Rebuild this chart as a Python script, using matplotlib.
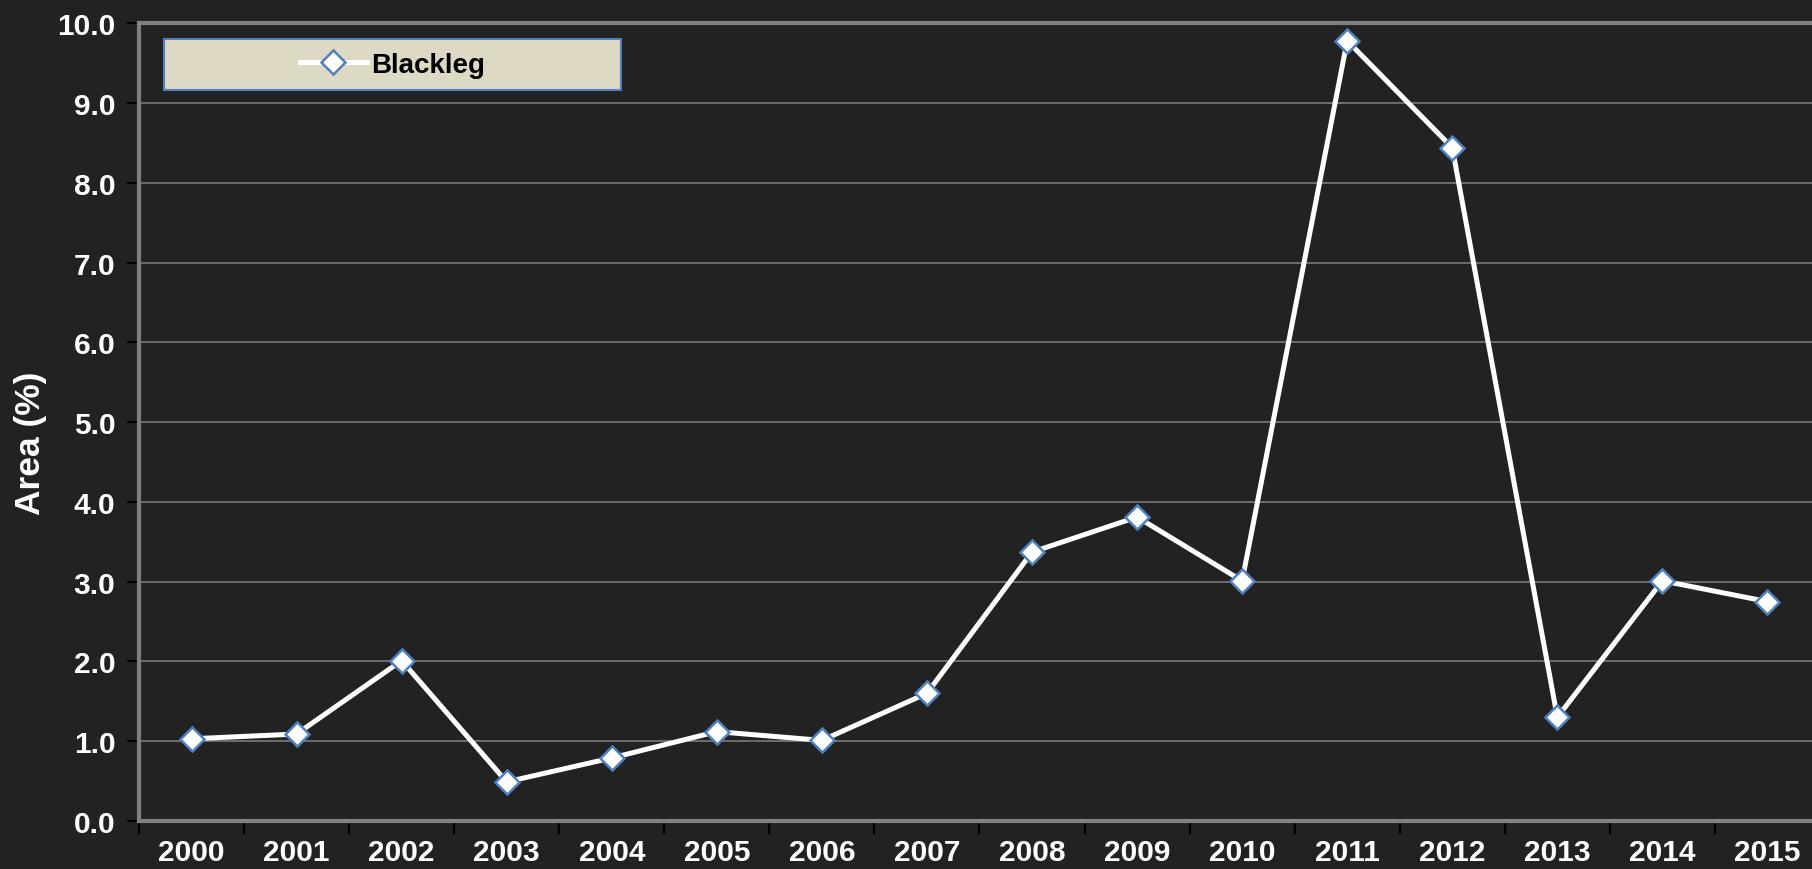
import matplotlib.pyplot as plt
import numpy as np
from matplotlib.ticker import FixedLocator, FixedFormatter
from matplotlib.patches import Rectangle

plt.rcParams['font.family'] = ['Liberation Sans', 'DejaVu Sans']

years = ['2000', '2001', '2002', '2003', '2004', '2005', '2006', '2007',
         '2008', '2009', '2010', '2011', '2012', '2013', '2014', '2015']
blackleg = [1.03, 1.09, 2.01, 0.49, 0.79, 1.12, 1.01, 1.60,
            3.37, 3.81, 3.01, 9.78, 8.44, 1.30, 3.01, 2.75]
yticks = [0.0, 1.0, 2.0, 3.0, 4.0, 5.0, 6.0, 7.0, 8.0, 9.0, 10.0]

bg = '#222222'
fig = plt.figure(figsize=(18.12, 8.7), dpi=100, facecolor=bg)
ax = fig.add_axes([0.0767, 0.0552, 0.9277, 0.917], facecolor=bg)

x = np.arange(len(years))
ax.plot(x, blackleg, color='white', lw=3.6, marker='D', markersize=12,
        markerfacecolor='white', markeredgecolor='#4F81BD', markeredgewidth=1.8,
        label='Blackleg', zorder=3)

ax.set_xlim(-0.5, len(years) - 0.5)
ax.set_ylim(0, 10)
ax.set_yticks(yticks)
ax.set_yticklabels([f'{v:.1f}' for v in yticks])
ax.grid(axis='y', color='#7a7a7a', lw=1.2)
ax.set_axisbelow(True)

# labels centered, tick marks on category boundaries
ax.xaxis.set_major_locator(FixedLocator(x))
ax.xaxis.set_major_formatter(FixedFormatter(years))
ax.xaxis.set_minor_locator(FixedLocator(np.arange(-0.5, len(years), 1.0)))
ax.tick_params(axis='x', which='major', length=0, pad=12)
ax.tick_params(axis='x', which='minor', length=9, width=1.5, color='black', direction='out')
ax.tick_params(axis='y', length=9, width=1.5, color='black', direction='out', pad=8)

for lab in ax.get_xticklabels() + ax.get_yticklabels():
    lab.set_color('white')
    lab.set_fontweight('bold')
    lab.set_fontsize(21.5)

for s in ax.spines.values():
    s.set_color('#808080')
    s.set_linewidth(3)

ax.set_ylabel('Area (%)', color='white', fontsize=25.5, fontweight='bold')
ax.yaxis.set_label_coords(-0.055, 0.475)

# legend box drawn as a patch, entry centered in it
box = Rectangle((0.0151, 0.916), 0.2714, 0.0637, transform=ax.transAxes,
                facecolor='#DDD9C4', edgecolor='#4F81BD', lw=1.5, zorder=4)
ax.add_patch(box)
leg = ax.legend(loc='center', bbox_to_anchor=(0.1508, 0.9478), frameon=False,
                fontsize=20, handlelength=2.4, handletextpad=0.15)
leg.set_zorder(5)
for t in leg.get_texts():
    t.set_fontweight('bold')
    t.set_color('black')

fig.savefig('out.png', dpi=100, facecolor=bg)
